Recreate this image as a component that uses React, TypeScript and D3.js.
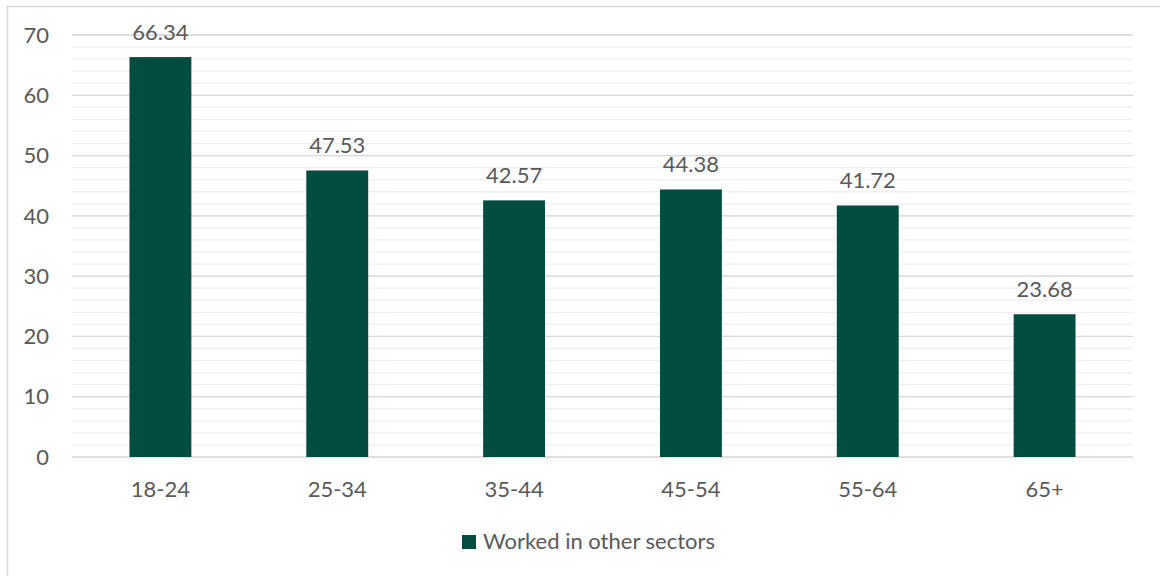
import React from "react";
import * as d3 from "d3";

const categories = ["18-24", "25-34", "35-44", "45-54", "55-64", "65+"];
const values = [66.34, 47.53, 42.57, 44.38, 41.72, 23.68];
const yTicks = [0, 10, 20, 30, 40, 50, 60, 70];
const minorTicks = d3.range(0, 71, 2);
const seriesName = "Worked in other sectors";

const W = 1160;
const H = 576;
const left = 72;
const right = 1133;
const top = 35;
const bottom = 457;
const barColor = "#024D40";
const textColor = "#595959";
const font = "Lato, 'Open Sans', sans-serif";
const fs = 22;

export default function App() {
  const x = d3.scaleBand<string>().domain(categories).range([left, right]).paddingInner(0.65).paddingOuter(0.325);
  const y = d3.scaleLinear().domain([0, 70]).range([bottom, top]);
  return (
    <svg width={W} height={H} style={{ position: "absolute", left: 0, top: 0, background: "#fff" }}>
      <rect x={7.5} y={6.5} width={W + 10} height={H + 10} fill="#fff" stroke="#d9d9d9" strokeWidth={1.5} />
      {minorTicks.map((t) => (
        <line key={"m" + t} x1={left} x2={right} y1={y(t)} y2={y(t)} stroke="#f0f0f0" strokeWidth={1.3} />
      ))}
      {yTicks.map((t) => (
        <line key={"g" + t} x1={left} x2={right} y1={y(t)} y2={y(t)} stroke="#d9d9d9" strokeWidth={1.3} />
      ))}
      {yTicks.map((t) => (
        <text key={"t" + t} x={49} y={y(t)} dy="0.35em" textAnchor="end" fontFamily={font} fontSize={fs} fill={textColor}>
          {t}
        </text>
      ))}
      {categories.map((c, i) => (
        <g key={c}>
          <rect x={x(c)} y={y(values[i])} width={x.bandwidth()} height={y(0) - y(values[i])} fill={barColor} />
          <text x={(x(c) as number) + x.bandwidth() / 2} y={y(values[i]) - 17} textAnchor="middle" fontFamily={font} fontSize={fs} fill={textColor}>
            {values[i].toFixed(2)}
          </text>
          <text x={(x(c) as number) + x.bandwidth() / 2} y={497} textAnchor="middle" fontFamily={font} fontSize={fs} fill={textColor}>
            {c}
          </text>
        </g>
      ))}
      <rect x={462} y={535} width={14} height={14} fill={barColor} />
      <text x={483} y={549} fontFamily={font} fontSize={fs} fill={textColor}>
        {seriesName}
      </text>
    </svg>
  );
}
